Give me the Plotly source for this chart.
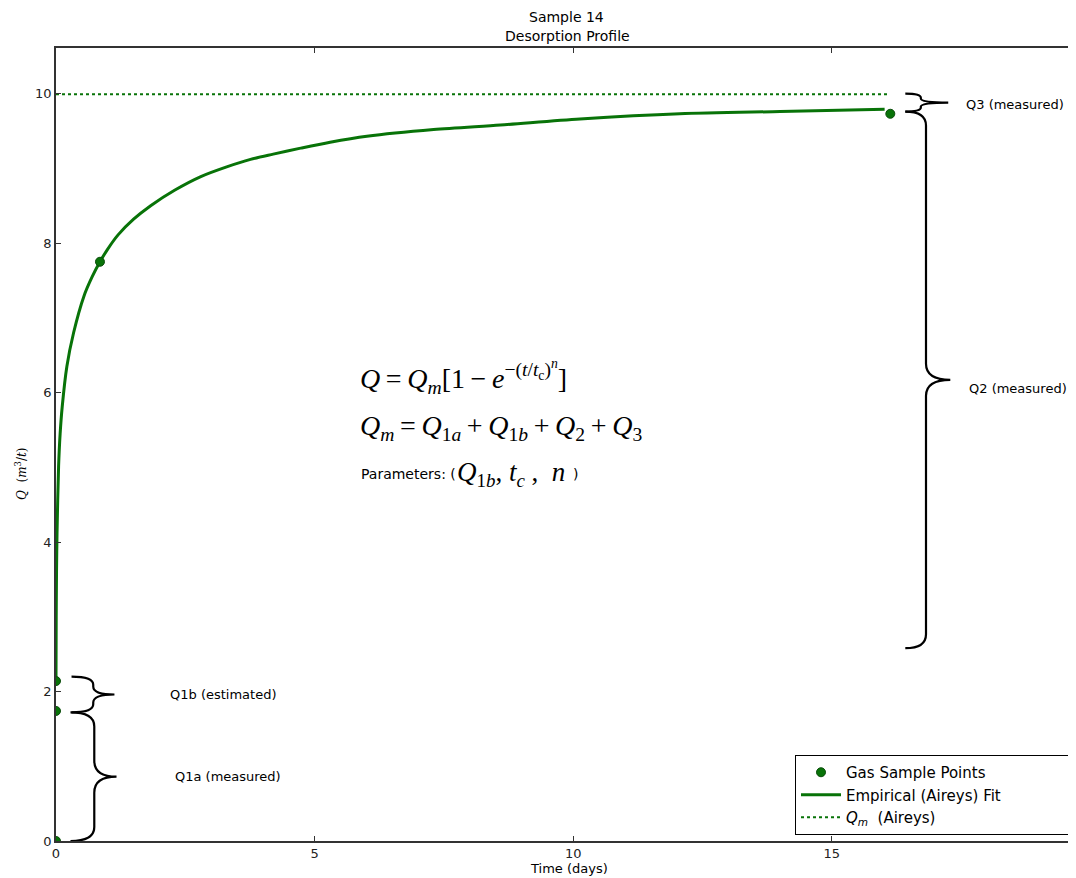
import plotly.graph_objects as go

# ---------------- data ----------------
sample_t = [0.0, 0.0, 0.0, 0.85, 16.13]
sample_q = [0.0, 1.74, 2.14, 7.75, 9.73]

fit_t = [0.0, 0.004, 0.01, 0.02, 0.05, 0.08, 0.12, 0.21, 0.34, 0.54, 0.70, 0.85, 1.0, 1.2, 1.5,
         1.83, 2.30, 2.80, 3.30, 3.76, 4.20, 4.73, 5.30, 6.01, 7.30, 8.59, 10.13, 12.06, 14.0, 16.02]
fit_q = [2.17, 3.0, 3.6, 4.12, 5.01, 5.45, 5.81, 6.35, 6.80, 7.29, 7.55, 7.75, 7.92, 8.11, 8.32,
         8.50, 8.71, 8.89, 9.02, 9.12, 9.19, 9.27, 9.35, 9.43, 9.52, 9.58, 9.66, 9.73, 9.76, 9.79]

qm_t = [0.0, 16.07]
qm_q = [9.99, 9.99]

brace_labels = ["Q1a (measured)", "Q1b (estimated)", "Q2 (measured)", "Q3 (measured)"]
brace_low = [0.0, 1.72, 2.58, 9.76]
brace_high = [1.72, 2.20, 9.76, 10.0]

x_ticks = [0, 5, 10, 15]
y_ticks = [0, 2, 4, 6, 8, 10]

# ---------------- layout constants ----------------
# The page body has an 8px default margin; positions below are given in
# window pixels and converted to the figure.
OFF = 8
FW, FH = 1076 - OFF, 878 - OFF
REF_L, REF_R, REF_T, REF_B = 56, 1076, 48, 841
ML = REF_L - OFF
MT = REF_T - OFF
MB = FH - (REF_B - OFF)
MR = FW - (REF_R - OFF)
XR = [0, 19.72]
YR = [0, 10.61]
GREEN = "#087308"
PH = REF_B - REF_T


def px_x(p):
    return (p - REF_L) / (REF_R - REF_L)


def px_y(p):
    return (REF_B - p) / (REF_B - REF_T)


Y_PER_PX = (YR[1] - YR[0]) / PH
PAD = "\u00a0" * 14

fig = go.Figure()

fig.add_trace(go.Scatter(
    x=fit_t, y=fit_q, mode="lines", name="Empirical (Aireys) Fit" + PAD, legendrank=2,
    line=dict(color=GREEN, width=3, shape="spline", smoothing=0.8),
))
fig.add_trace(go.Scatter(
    x=qm_t, y=qm_q, mode="lines", name="<i>Q<sub>m</sub></i>  (Aireys)", legendrank=3,
    line=dict(color=GREEN, width=2, dash="dot"),
))
fig.add_trace(go.Scatter(
    x=sample_t, y=sample_q, mode="markers", name="Gas Sample Points", legendrank=1,
    marker=dict(color=GREEN, size=9, line=dict(color="#0b4d0b", width=1)),
))


def brace_path(x0, xs, xt, y0, y1):
    ym = (y0 + y1) / 2.0
    half = (y1 - y0) / 2.0
    r_end = min(14 * Y_PER_PX, half * 0.45)
    r_mid = min(16 * Y_PER_PX, half * 0.45)
    return (f"M {x0},{y0} Q {xs},{y0} {xs},{y0 + r_end} "
            f"L {xs},{ym - r_mid} Q {xs},{ym} {xt},{ym} "
            f"Q {xs},{ym} {xs},{ym + r_mid} "
            f"L {xs},{y1 - r_end} Q {xs},{y1} {x0},{y1}")


brace_x = [(0.28, 0.74, 1.17), (0.30, 0.72, 1.13), (16.42, 16.82, 17.29), (16.42, 16.72, 17.25)]
label_x = [2.27, 2.17, 17.62, 17.56]
label_dy = [0.0, 0.0, -0.12, -0.03]

shapes = []
annotations = []
for i, lab in enumerate(brace_labels):
    x0, xs, xt = brace_x[i]
    shapes.append(dict(type="path", xref="x", yref="y",
                       path=brace_path(x0, xs, xt, brace_low[i], brace_high[i]),
                       line=dict(color="black", width=2.2)))
    annotations.append(dict(x=label_x[i], y=(brace_low[i] + brace_high[i]) / 2 + label_dy[i],
                            xref="x", yref="y", text=lab, showarrow=False,
                            xanchor="left", yanchor="middle",
                            font=dict(family="DejaVu Sans", size=13, color="black")))

# titles
annotations.append(dict(x=px_x(566), y=px_y(17), xref="paper", yref="paper", text="Sample 14",
                        showarrow=False, xanchor="center", yanchor="middle",
                        font=dict(family="DejaVu Sans", size=14, color="black")))
annotations.append(dict(x=px_x(567), y=px_y(36), xref="paper", yref="paper", text="Desorption Profile",
                        showarrow=False, xanchor="center", yanchor="middle",
                        font=dict(family="DejaVu Sans", size=14, color="black")))
# axis labels
annotations.append(dict(x=px_x(569), y=px_y(868), xref="paper", yref="paper", text="Time (days)",
                        showarrow=False, xanchor="center", yanchor="middle",
                        font=dict(family="DejaVu Sans", size=13, color="black")))
annotations.append(dict(x=px_x(21), y=px_y(474), xref="paper", yref="paper",
                        text="<i>Q</i>  (<i>m</i><sup>3</sup>/<i>t</i>)",
                        showarrow=False, xanchor="center", yanchor="middle", textangle=-90,
                        font=dict(family="DejaVu Serif", size=12, color="black")))

# equations
TS = "\u2009"
EQ_FONT = dict(family="Liberation Serif", size=28, color="black")
annotations.append(dict(x=px_x(358), y=px_y(377), xref="paper", yref="paper",
                        text=f"<i>Q</i>{TS}={TS}<i>Q</i><sub><i>m</i></sub>[1{TS}−{TS}<i>e</i><sup>−(<i>t</i>/<i>t</i><sub>c</sub>)<sup><i>n</i></sup></sup>]",
                        showarrow=False, xanchor="left", yanchor="middle", font=EQ_FONT))
annotations.append(dict(x=px_x(358), y=px_y(427), xref="paper", yref="paper",
                        text=(f"<i>Q</i><sub><i>m</i></sub>{TS}={TS}<i>Q</i><sub>1<i>a</i></sub>{TS}+{TS}"
                              f"<i>Q</i><sub>1<i>b</i></sub>{TS}+{TS}<i>Q</i><sub>2</sub>{TS}+{TS}<i>Q</i><sub>3</sub>"),
                        showarrow=False, xanchor="left", yanchor="middle", font=EQ_FONT))
annotations.append(dict(x=px_x(359), y=px_y(474), xref="paper", yref="paper",
                        text="Parameters: (",
                        showarrow=False, xanchor="left", yanchor="middle",
                        font=dict(family="DejaVu Sans", size=14, color="black")))
annotations.append(dict(x=px_x(455), y=px_y(474), xref="paper", yref="paper",
                        text="<i>Q</i><sub>1<i>b</i></sub>, <i>t</i><sub><i>c</i></sub> ,  <i>n</i>",
                        showarrow=False, xanchor="left", yanchor="middle",
                        font=dict(family="Liberation Serif", size=27, color="black")))
annotations.append(dict(x=px_x(571), y=px_y(474), xref="paper", yref="paper",
                        text=")",
                        showarrow=False, xanchor="left", yanchor="middle",
                        font=dict(family="DejaVu Sans", size=14, color="black")))

fig.update_layout(
    width=FW, height=FH,
    margin=dict(l=ML, r=MR, t=MT, b=MB, pad=0),
    paper_bgcolor="white", plot_bgcolor="white",
    showlegend=True,
    legend=dict(x=px_x(795), y=px_y(835), xanchor="left", yanchor="bottom",
                bordercolor="black", borderwidth=1, bgcolor="white",
                font=dict(family="DejaVu Sans", size=15, color="black"),
                traceorder="normal", itemwidth=40),
    shapes=shapes,
    annotations=annotations,
    xaxis=dict(range=XR, tickvals=x_ticks, ticks="inside", ticklen=5, tickcolor="#333",
               showline=True, linecolor="#333", linewidth=1.5, mirror="ticks",
               showgrid=False, zeroline=False, automargin=False,
               tickfont=dict(family="DejaVu Sans", size=13, color="#222")),
    yaxis=dict(range=YR, tickvals=y_ticks, ticks="inside", ticklen=5, tickcolor="#333",
               showline=True, linecolor="#333", linewidth=1.5, mirror=False,
               showgrid=False, zeroline=False, automargin=False,
               tickfont=dict(family="DejaVu Sans", size=13, color="#222")),
)

fig.write_html("out.html")
